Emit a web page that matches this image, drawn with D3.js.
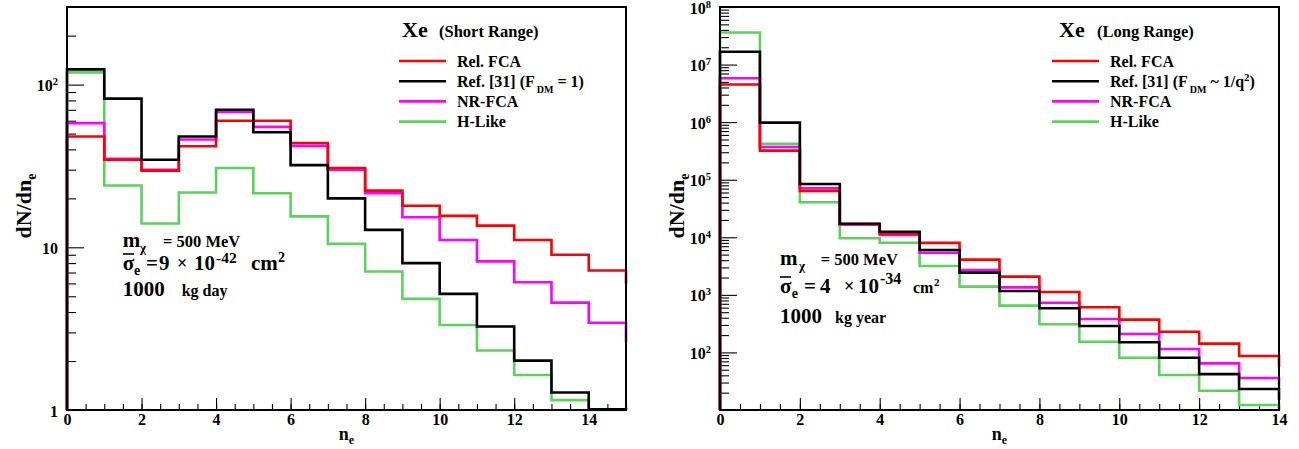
<!DOCTYPE html>
<html>
<head>
<meta charset="utf-8">
<script src="https://cdn.jsdelivr.net/npm/d3@7"></script>
<style>
  body { margin: 0; background: #fff; }
  text { font-family: "Liberation Serif", "Times New Roman", serif; font-weight: bold; fill: #000; }
</style>
</head>
<body>
<svg id="chart" width="1299" height="449"></svg>
<script>
// ---------- data ----------
var seriesNames = ["Rel. FCA", "Ref. [31]", "NR-FCA", "H-Like"];
var seriesColors = ["#ff0000", "#000000", "#ff00ff", "#5bd35b"];

// Short range, bins n_e = 0..14 (last entry = next bin, only its edge is visible)
var srRel   = [48, 34.5, 29.6, 41.8, 60, 60, 43.8, 30.7, 22.3, 18, 15.6, 13.6, 11.1, 9.0, 7.2, 6.0];
var srRef   = [124, 82, 34.5, 48, 70, 51, 32, 20, 12.8, 8.0, 5.17, 3.26, 2.01, 1.28, 1.01, 0.5];
var srNR    = [58, 35, 30, 46, 68, 55, 42, 30, 21.5, 15.3, 11.1, 8.2, 6.1, 4.57, 3.44, 2.6];
var srHLike = [119, 24, 14, 21.7, 30.7, 21.5, 15.5, 10.5, 7.1, 4.82, 3.33, 2.32, 1.64, 1.15, 0.95, 0.5];

// Long range, bins n_e = 0..13
var lrRel   = [4.5e6, 3.2e5, 6.4e4, 1.7e4, 1.15e4, 8.0e3, 4.1e3, 2.07e3, 1.12e3, 608, 372, 229, 142, 86.7, 56];
var lrRef   = [1.67e7, 9.8e5, 8.4e4, 1.72e4, 1.25e4, 6.0e3, 2.43e3, 1.17e3, 584, 288, 150, 81, 42, 23.2, 15];
var lrNR    = [5.8e6, 3.7e5, 7.1e4, 1.65e4, 1.1e4, 5.4e3, 2.7e3, 1.35e3, 730, 380, 209, 115, 64.6, 36, 25];
var lrHLike = [3.6e7, 4.2e5, 4.05e4, 9.6e3, 8.05e3, 3.17e3, 1.39e3, 650, 308, 153, 81, 40.5, 21.6, 12.2, 10];

var srYMajor = [1, 10, 100];
var lrYMajor = [1e2, 1e3, 1e4, 1e5, 1e6, 1e7, 1e8];

var svg = d3.select("#chart");
svg.append("rect").attr("width", 1299).attr("height", 449).attr("fill", "#fff");

function minorsFor(domain) {
    var out = [];
    for (var p = Math.floor(Math.log10(domain[0])); p <= Math.ceil(Math.log10(domain[1])); p++) {
        for (var m = 2; m <= 9; m++) {
            var v = m * Math.pow(10, p);
            if (v > domain[0] && v < domain[1]) out.push(v);
        }
    }
    return out;
}

function drawPanel(cfg) {
    var x = d3.scaleLinear().domain([0, cfg.xMax]).range([cfg.left, cfg.right]);
    var y = d3.scaleLog().domain(cfg.yDomain).range([cfg.bottom, cfg.top]);
    var g = svg.append("g");

    // x axis ticks (inside the frame)
    var xMinor = g.append("g").attr("transform", "translate(0," + cfg.bottom + ")")
        .call(d3.axisBottom(x).tickValues(d3.range(0, cfg.xMax + 0.01, 0.5)).tickSizeInner(-6).tickSizeOuter(0).tickFormat(""));
    var xMajor = g.append("g").attr("transform", "translate(0," + cfg.bottom + ")")
        .call(d3.axisBottom(x).tickValues(d3.range(0, cfg.xMax + 0.01, 2)).tickSizeInner(-12).tickSizeOuter(0));
    xMajor.selectAll(".tick text").attr("y", 15).attr("dy", 0)
        .style("font-size", "16px").style("font-family", "Liberation Serif").style("font-weight", "bold");

    // y axis ticks
    var yMinor = g.append("g").attr("transform", "translate(" + cfg.left + ",0)")
        .call(d3.axisLeft(y).tickValues(minorsFor(cfg.yDomain)).tickSizeInner(-9).tickSizeOuter(0).tickFormat(""));
    var yMajor = g.append("g").attr("transform", "translate(" + cfg.left + ",0)")
        .call(d3.axisLeft(y).tickValues(cfg.yMajor).tickSizeInner(-17).tickSizeOuter(0).tickFormat(""));
    yMajor.selectAll(".tick text").each(function (d) {
        var t = d3.select(this).attr("x", -9).attr("y", 6).attr("dy", 0)
            .style("font-size", "16px").style("font-family", "Liberation Serif").style("font-weight", "bold");
        var p = Math.round(Math.log10(d));
        if (cfg.plainLabels && p <= 1) {
            t.text(d);
        } else {
            t.append("tspan").text("10");
            t.append("tspan").attr("dy", -6).style("font-size", "10.5px").text(p);
        }
    });

    [xMinor, xMajor, yMinor, yMajor].forEach(function (a) {
        a.select(".domain").remove();
        a.selectAll(".tick line").attr("stroke", "#000").attr("stroke-width", 1.1);
    });

    // histograms
    var line = d3.line()
        .x(function (d) { return x(d[0]); })
        .y(function (d) { return Math.min(cfg.bottom, Math.max(cfg.top, y(Math.max(d[1], 1e-9)))); })
        .curve(d3.curveStepAfter);
    var drawOrder = [3, 2, 0, 1];
    drawOrder.forEach(function (k) {
        var vals = cfg.series[k];
        var n = cfg.xMax;
        var pts = [[0, cfg.yDomain[0] * 0.5]];
        for (var i = 0; i < n; i++) pts.push([i, vals[i]]);
        pts.push([n, vals[n - 1]]);
        pts.push([n, vals[n]]);
        g.append("path").attr("d", line(pts)).attr("fill", "none")
            .attr("stroke", seriesColors[k]).attr("stroke-width", 2.6);
    });

    // frame
    g.append("rect").attr("x", cfg.left).attr("y", cfg.top)
        .attr("width", cfg.right - cfg.left).attr("height", cfg.bottom - cfg.top)
        .attr("fill", "none").attr("stroke", "#000").attr("stroke-width", 2);

    // axis titles
    var xt = g.append("text").attr("x", (cfg.left + cfg.right) / 2).attr("y", 440)
        .attr("text-anchor", "middle").style("font-size", "18px");
    xt.append("tspan").text("n");
    xt.append("tspan").attr("dy", 4).style("font-size", "12px").text("e");

    var yt = g.append("text").attr("transform", "translate(" + (cfg.left - 36) + "," + cfg.titleY + ") rotate(-90)")
        .attr("text-anchor", "middle").style("font-size", "22px");
    yt.append("tspan").text("dN/dn");
    yt.append("tspan").attr("dy", 5).style("font-size", "14px").text("e");

    // legend
    var lg = cfg.legend;
    g.append("text").attr("x", lg.x).attr("y", 36.7).style("font-size", "22px").text("Xe");
    g.append("text").attr("x", lg.subX).attr("y", 36.7).style("font-size", "16.5px").text(lg.sub);
    seriesNames.forEach(function (name, i) {
        var ly = 61 + 20.2 * i;
        g.append("line").attr("x1", lg.lineX).attr("x2", lg.lineX + 47).attr("y1", ly).attr("y2", ly)
            .attr("stroke", seriesColors[i]).attr("stroke-width", 2.6);
        var t = g.append("text").attr("x", lg.lineX + 58).attr("y", ly + 5.5).style("font-size", "16px");
        if (i === 1) {
            t.append("tspan").text("Ref. [31] (F");
            t.append("tspan").attr("dx", 2).attr("dy", 6).style("font-size", "10px").text("DM");
            lg.refTail(t);
        } else {
            t.text(name);
        }
    });
    return g;
}

function txt(g, x, y, size, s) {
    return g.append("text").attr("x", x).attr("y", y).style("font-size", size + "px").text(s);
}

// ---------- left panel ----------
var gl = drawPanel({
    left: 67, right: 626, top: 7, bottom: 410, xMax: 15, yDomain: [1, 300],
    yMajor: srYMajor, plainLabels: true, titleY: 206,
    series: [srRel, srRef, srNR, srHLike],
    legend: {
        x: 402, subX: 439, sub: "(Short Range)", lineX: 399,
        refTail: function (t) { t.append("tspan").attr("dy", -6).text(" = 1)"); }
    }
});
txt(gl, 122.7, 246.7, 21, "m");
txt(gl, 140, 252, 13, "χ");
txt(gl, 163, 246.7, 16.5, "= 500 MeV");
txt(gl, 122.7, 270, 21, "σ");
gl.append("line").attr("x1", 123).attr("x2", 134).attr("y1", 254).attr("y2", 254).attr("stroke", "#000").attr("stroke-width", 1.6);
txt(gl, 134, 275, 14, "e");
txt(gl, 146, 270, 21, "=");
txt(gl, 159, 270, 21, "9");
txt(gl, 177, 269, 18, "×");
txt(gl, 194, 270, 21, "10");
txt(gl, 216, 262.5, 15.5, "-42");
txt(gl, 251, 270, 21, "cm");
txt(gl, 278, 262, 14, "2");
txt(gl, 122.7, 296, 21, "1000");
txt(gl, 181.7, 296, 16, "kg day");

// ---------- right panel ----------
var gr = drawPanel({
    left: 720, right: 1279, top: 7, bottom: 410, xMax: 14, yDomain: [10, 1e8],
    yMajor: lrYMajor, plainLabels: false, titleY: 206,
    series: [lrRel, lrRef, lrNR, lrHLike],
    legend: {
        x: 1059, subX: 1097, sub: "(Long Range)", lineX: 1052,
        refTail: function (t) {
            t.append("tspan").attr("dy", -6).text(" ~ 1/q");
            t.append("tspan").attr("dy", -6).style("font-size", "11px").text("2");
            t.append("tspan").attr("dy", 6).text(")");
        }
    }
});
txt(gr, 780, 265, 21, "m");
txt(gr, 799, 270, 13, "χ");
txt(gr, 820.7, 265, 16.5, "= 500 MeV");
txt(gr, 780, 293, 21, "σ");
gr.append("line").attr("x1", 780).attr("x2", 791).attr("y1", 277).attr("y2", 277).attr("stroke", "#000").attr("stroke-width", 1.6);
txt(gr, 791.7, 298, 14, "e");
txt(gr, 804, 293, 21, "=");
txt(gr, 820, 293, 21, "4");
txt(gr, 844, 292, 18, "×");
txt(gr, 858, 293, 21, "10");
txt(gr, 880, 284, 16, "-34");
txt(gr, 913, 293, 16, "cm");
txt(gr, 934, 286, 11, "2");
txt(gr, 780, 323.3, 21, "1000");
txt(gr, 835, 323.3, 16, "kg year");
</script>
</body>
</html>
